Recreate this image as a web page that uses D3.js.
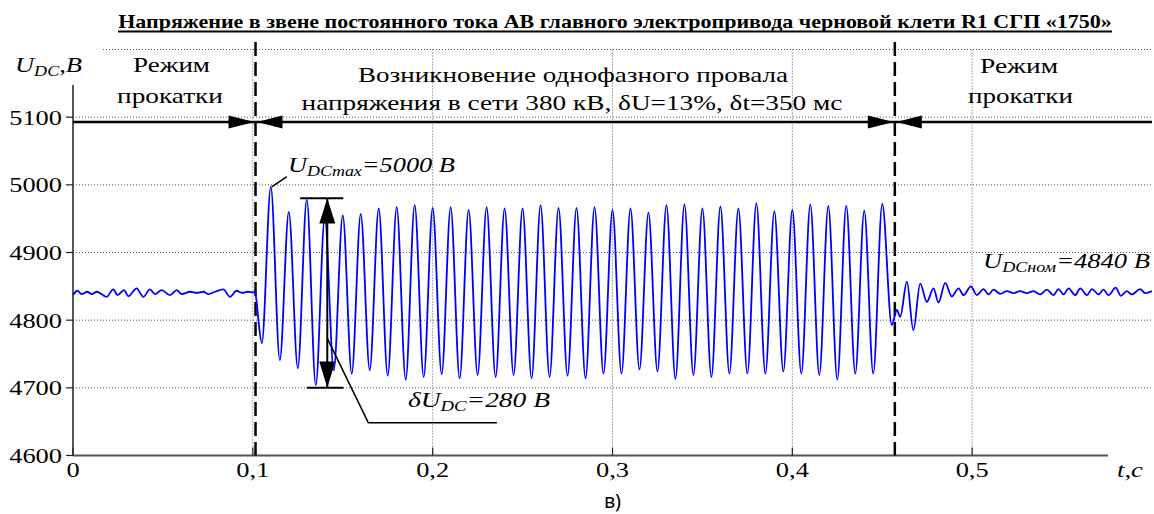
<!DOCTYPE html>
<html><head><meta charset="utf-8">
<script src="https://cdn.jsdelivr.net/npm/d3@7"></script>
<style>body{margin:0;background:#fff}svg{display:block}</style>
</head><body>
<svg id="c" width="1154" height="514"></svg>
<script>
// ---------- data ----------
const xTicks = [0, 0.1, 0.2, 0.3, 0.4, 0.5];
const xTickLabels = ["0", "0,1", "0,2", "0,3", "0,4", "0,5"];
const yTicks = [4600, 4700, 4800, 4900, 5000, 5100];
const yTickLabels = ["4600", "4700", "4800", "4900", "5000", "5100"];
const eventBounds = [0.1015, 0.457];

// rolling mode before the sag
const preT = [0, 0.0024, 0.0048, 0.0080, 0.0104, 0.0132, 0.0187, 0.0224, 0.0247, 0.0284,
  0.0308, 0.0354, 0.0391, 0.0428, 0.0456, 0.0493, 0.0539, 0.0577, 0.0605, 0.0651,
  0.0688, 0.0725, 0.0753, 0.0790, 0.0836, 0.0873, 0.0910, 0.0938, 0.0975, 0.1003,
  0.1012, 0.1022, 0.1031];
const preU = [4837, 4843.5, 4838.5, 4842, 4838.5, 4842, 4834.5, 4845.5, 4837, 4844.5,
  4835.5, 4847, 4834.5, 4845.5, 4838.5, 4844.5, 4837, 4844.5, 4838.5, 4842,
  4840.5, 4842, 4838.5, 4842, 4845.5, 4834.5, 4843.5, 4840.5, 4842, 4841,
  4842, 4825, 4800];

// voltage sag: troughs and peaks of the 100 Hz oscillation
const sagTroughT = [0.105, 0.115, 0.125, 0.135, 0.145, 0.155, 0.165, 0.175, 0.185, 0.195,
  0.205, 0.215, 0.225, 0.235, 0.245, 0.255, 0.265, 0.275, 0.285, 0.295,
  0.305, 0.315, 0.325, 0.335, 0.345, 0.355, 0.365, 0.375, 0.385, 0.395,
  0.405, 0.415, 0.425, 0.435, 0.445];
const sagTroughU = [4766, 4741, 4729, 4704, 4726, 4721, 4726, 4718, 4712, 4716,
  4720, 4714, 4719, 4716, 4719, 4714, 4716, 4718, 4714, 4721,
  4721, 4727, 4724, 4713, 4719, 4716, 4721, 4721, 4721, 4724,
  4721, 4719, 4712, 4721, 4721];
const sagPeakT = [0.110, 0.120, 0.130, 0.140, 0.150, 0.160, 0.170, 0.180, 0.190, 0.200,
  0.210, 0.220, 0.230, 0.240, 0.250, 0.260, 0.270, 0.280, 0.290, 0.300,
  0.310, 0.320, 0.330, 0.340, 0.350, 0.360, 0.370, 0.380, 0.390, 0.400,
  0.410, 0.420, 0.430, 0.440, 0.450];
const sagPeakU = [4997, 4960, 4978, 4952, 4955, 4957, 4965, 4967, 4970, 4966,
  4967, 4963, 4967, 4965, 4965, 4970, 4966, 4966, 4967, 4963,
  4965, 4959, 4970, 4971, 4965, 4968, 4965, 4973, 4961, 4963,
  4971, 4969, 4969, 4962, 4972];

// rolling mode after the sag
const postT = [0.4553, 0.4581, 0.4600, 0.4637, 0.4673, 0.4711, 0.4748, 0.4785, 0.4813, 0.4850,
  0.4887, 0.4924, 0.4952, 0.4993, 0.5026, 0.5063, 0.5091, 0.5119, 0.5156, 0.5193,
  0.5230, 0.5267, 0.5304, 0.5341, 0.5378, 0.5415, 0.5452, 0.5480, 0.5508, 0.5536,
  0.5573, 0.5601, 0.5638, 0.5666, 0.5703, 0.5730, 0.5758, 0.5798, 0.5827, 0.5860,
  0.5888, 0.5934, 0.5962, 0.6000];
const postU = [4793, 4815, 4805, 4857, 4785, 4854, 4827, 4847, 4826, 4855,
  4835, 4847, 4837, 4850, 4837, 4846, 4838, 4845, 4839, 4843,
  4840, 4843, 4840, 4843, 4838, 4845, 4837, 4846, 4838, 4847,
  4837, 4847, 4837, 4846, 4838, 4845, 4837, 4848, 4836, 4843,
  4838, 4846, 4840, 4843];

// annotation values
const uMax = 5000, uNom = 4840, dU = 280;
const bracketTop = 4980, bracketBottom = 4700;

// ---------- drawing ----------
const svg = d3.select("#c");
const W = 1154, H = 514;
const x = d3.scaleLinear().domain([0, 0.6]).range([73, 1152]);
const y = d3.scaleLinear().domain([4600, 5200]).range([455.5, 49.5]);
const SERIF = "'Liberation Serif','Times New Roman',serif";
const SX = 1.2;

svg.append("rect").attr("width", W).attr("height", H).attr("fill", "#fff");

function fitText(sel, px, py, w, anchor) {
  sel.attr("x", 0).attr("y", 0).attr("text-anchor", anchor);
  const L = sel.node().getComputedTextLength();
  sel.attr("transform", `translate(${px},${py}) scale(${w / L},1)`);
  return sel;
}

// grid
const grid = svg.append("g").attr("stroke", "#555").attr("stroke-width", 1)
  .attr("stroke-dasharray", "1,2").attr("fill", "none");
[4700, 4800, 4900, 5000, 5100, 5200].forEach(v => {
  grid.append("line").attr("x1", v === 5200 ? 103 : x(0)).attr("x2", x(0.6))
    .attr("y1", y(v)).attr("y2", y(v));
});
[0.1, 0.2, 0.3, 0.4, 0.5].forEach(t => {
  grid.append("line").attr("x1", x(t)).attr("x2", x(t)).attr("y1", y(5200)).attr("y2", y(4600));
});

// axes
svg.append("line").attr("x1", x(0)).attr("x2", x(0)).attr("y1", 85).attr("y2", y(4600))
  .attr("stroke", "#222").attr("stroke-width", 1.5);
svg.append("line").attr("x1", x(0)).attr("x2", 1108).attr("y1", y(4600)).attr("y2", y(4600))
  .attr("stroke", "#555").attr("stroke-width", 2);

// y ticks + labels
yTicks.forEach((v, i) => {
  svg.append("line").attr("x1", x(0) - 7).attr("x2", x(0)).attr("y1", y(v)).attr("y2", y(v))
    .attr("stroke", "#222").attr("stroke-width", 1.2);
  svg.append("text").text(yTickLabels[i])
    .attr("font-family", SERIF).attr("font-size", 22).attr("text-anchor", "end")
    .attr("transform", `translate(62,${y(v) + 7.5}) scale(${SX},1)`);
});
// x ticks + labels
xTicks.forEach((t, i) => {
  svg.append("line").attr("x1", x(t)).attr("x2", x(t)).attr("y1", y(4600) - 8).attr("y2", y(4600))
    .attr("stroke", "#222").attr("stroke-width", 1.2);
  svg.append("text").text(xTickLabels[i])
    .attr("font-family", SERIF).attr("font-size", 22).attr("text-anchor", "middle")
    .attr("transform", `translate(${x(t)},477) scale(${SX},1)`);
});

// axis titles
const yl = svg.append("text").attr("font-family", SERIF).attr("font-style", "italic").attr("font-size", 22);
yl.append("tspan").text("U");
yl.append("tspan").text("DC").attr("font-size", 15).attr("dy", 4);
yl.append("tspan").text(",В").attr("dy", -4);
fitText(yl, 15, 72, 67, "start");

fitText(svg.append("text").text("t,с").attr("font-family", SERIF).attr("font-style", "italic")
  .attr("font-size", 22), 1117, 477, 26, "start");

svg.append("text").text("в)").attr("font-family", "'Noto Sans','Open Sans',sans-serif")
  .attr("font-size", 20).attr("text-anchor", "middle").attr("x", x(0.3)).attr("y", 508);

// title
fitText(svg.append("text").text("Напряжение в звене постоянного тока АВ главного электропривода черновой клети R1 СГП «1750»")
  .attr("font-family", SERIF).attr("font-weight", "bold").attr("font-size", 19), 615, 28, 994, "middle");
svg.append("line").attr("x1", 118).attr("x2", 1112).attr("y1", 31.5).attr("y2", 31.5)
  .attr("stroke", "#000").attr("stroke-width", 1.8);

// region labels
function lbl(s, cx, by, w) {
  return fitText(svg.append("text").text(s).attr("font-family", SERIF).attr("font-size", 22), cx, by, w, "middle");
}
lbl("Режим", 171.5, 72, 77);
lbl("прокатки", 170, 103, 106);
lbl("Возникновение однофазного провала", 573, 82, 430);
lbl("напряжения в сети 380 кВ, δU=13%, δt=350 мс", 572, 110, 541);
lbl("Режим", 1019, 73, 78);
lbl("прокатки", 1020.5, 103, 105);

// event boundaries
eventBounds.forEach(t => {
  svg.append("line").attr("x1", x(t)).attr("x2", x(t)).attr("y1", 42).attr("y2", y(4600))
    .attr("stroke", "#000").attr("stroke-width", 2.5).attr("stroke-dasharray", "14,6");
});

// duration arrows line
const ay = y(5093);
svg.append("line").attr("x1", x(0)).attr("x2", x(0.6)).attr("y1", ay).attr("y2", ay)
  .attr("stroke", "#000").attr("stroke-width", 2.5);
eventBounds.forEach(t => {
  const xc = x(t);
  svg.append("path").attr("d", `M${xc - 1},${ay} L${xc - 27},${ay - 6.5} L${xc - 27},${ay + 6.5}Z`).attr("fill", "#000");
  svg.append("path").attr("d", `M${xc + 1.5},${ay} L${xc + 27},${ay - 6.5} L${xc + 27},${ay + 6.5}Z`).attr("fill", "#000");
});

// signal
const pts = [];
preT.forEach((t, i) => pts.push([t, preU[i]]));
const sag = [];
sagTroughT.forEach((t, i) => sag.push([t, sagTroughU[i]]));
sagPeakT.forEach((t, i) => sag.push([t, sagPeakU[i]]));
sag.sort((a, b) => a[0] - b[0]).forEach(p => pts.push(p));
postT.forEach((t, i) => pts.push([t, postU[i]]));
const line = d3.line().x(d => x(d[0])).y(d => y(d[1])).curve(d3.curveMonotoneX);
svg.append("path").attr("d", line(pts)).attr("fill", "none")
  .attr("stroke", "#0000ff").attr("stroke-width", 1.8).attr("stroke-linejoin", "round");

// dU bracket
const bx = x(0.1414);
svg.append("line").attr("x1", x(0.1263)).attr("x2", x(0.1503)).attr("y1", y(bracketTop)).attr("y2", y(bracketTop))
  .attr("stroke", "#000").attr("stroke-width", 2);
svg.append("line").attr("x1", x(0.1300)).attr("x2", x(0.1503)).attr("y1", y(bracketBottom)).attr("y2", y(bracketBottom))
  .attr("stroke", "#000").attr("stroke-width", 2);
svg.append("line").attr("x1", bx).attr("x2", bx).attr("y1", y(bracketTop)).attr("y2", y(bracketBottom))
  .attr("stroke", "#000").attr("stroke-width", 2);
svg.append("path").attr("d", `M${bx},${y(bracketTop)} L${bx - 8},${y(4943)} L${bx + 8},${y(4943)}Z`).attr("fill", "#000");
svg.append("path").attr("d", `M${bx},${y(bracketBottom)} L${bx - 8},${y(4739)} L${bx + 8},${y(4739)}Z`).attr("fill", "#000");

// leaders
svg.append("path").attr("d", `M${bx},${y(4773)} L${x(0.1642)},${y(4648.5)} L${x(0.2357)},${y(4648.5)}`)
  .attr("fill", "none").attr("stroke", "#000").attr("stroke-width", 1.5);
svg.append("path").attr("d", `M${x(0.1189)},${y(5012)} L${x(0.1105)},${y(4997)}`)
  .attr("fill", "none").attr("stroke", "#000").attr("stroke-width", 1.5);

// annotation texts
function ann(main, sub, rest, px, py, w) {
  const t = svg.append("text").attr("font-family", SERIF).attr("font-style", "italic").attr("font-size", 22);
  t.append("tspan").text(main);
  t.append("tspan").text(sub).attr("font-size", 15).attr("dy", 4);
  t.append("tspan").text(rest).attr("dy", -4);
  fitText(t, px, py, w, "start");
}
ann("U", "DCmax", "=" + uMax + " В", 288, 171.7, 167);
ann("δU", "DC", "=" + dU + " В", 408, 406.7, 142);
ann("U", "DCном", "=" + uNom + " В", 983, 268, 167);
</script>
</body></html>
